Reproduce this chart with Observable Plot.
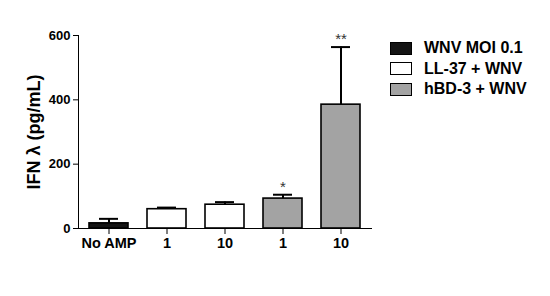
<!DOCTYPE html>
<html>
<head>
<meta charset="utf-8">
<script src="https://cdn.jsdelivr.net/npm/d3@7"></script>
<script src="https://cdn.jsdelivr.net/npm/@observablehq/plot@0.6"></script>
<style>
  body { margin: 0; background: #fff; }
  #wrap { position: relative; width: 550px; height: 296px; font-family: "Liberation Sans", Arial, sans-serif; }
  #legend { position: absolute; left: 390px; top: 38px; font-weight: bold; font-size: 16px; color: #000; }
  .row { display: flex; align-items: center; height: 20.5px; }
  .sw { width: 20px; height: 11px; border: 1px solid #000; margin-right: 12px; }
</style>
</head>
<body>
<div id="wrap"><div id="legend"></div></div>
<script>
const keys = ["No AMP", "LL-37 1", "LL-37 10", "hBD-3 1", "hBD-3 10"];
const tickLabels = ["No AMP", "1", "10", "1", "10"];
const groups = ["WNV MOI 0.1", "LL-37 + WNV", "LL-37 + WNV", "hBD-3 + WNV", "hBD-3 + WNV"];
const values = [16, 60, 74, 93, 385];
const errors = [14, 5, 8, 12, 179];
const stars = ["", "", "", "*", "**"];
const legendGroups = ["WNV MOI 0.1", "LL-37 + WNV", "hBD-3 + WNV"];
const groupColors = ["#141414", "#ffffff", "#a3a3a3"];
const yTicks = [0, 200, 400, 600];
const yLabel = "IFN λ (pg/mL)";

const data = keys.map((k, i) => ({
  key: k, group: groups[i], value: values[i], top: values[i] + errors[i], star: stars[i]
}));
const labelMap = new Map(keys.map((k, i) => [k, tickLabels[i]]));

const plot = Plot.plot({
  width: 550,
  height: 296,
  marginLeft: 78,
  marginRight: 179,
  marginTop: 35,
  marginBottom: 68,
  style: { fontFamily: "Liberation Sans, Arial, sans-serif", fontSize: "14.5px", fontWeight: "bold", color: "#000", background: "#fff" },
  x: { domain: keys, paddingInner: 0.32, paddingOuter: 0.16, label: null, tickFormat: d => labelMap.get(d), tickSize: 6, tickPadding: 3, line: true },
  y: { domain: [0, 600], ticks: yTicks, label: null, tickSize: 5, tickPadding: 3, line: true },
  color: { domain: legendGroups, range: groupColors },
  marks: [
    Plot.ruleX(data, { x: "key", y1: "value", y2: "top", stroke: "#000", strokeWidth: 2 }),
    Plot.tickY(data, { x: "key", y: "top", stroke: "#000", strokeWidth: 2, insetLeft: 10, insetRight: 10 }),
    Plot.barY(data, { x: "key", y: "value", fill: "group", stroke: "#000", strokeWidth: 1.6 }),
    Plot.text(data, { x: "key", y: "top", text: "star", dy: -8, fontSize: 15, fontWeight: "normal", fill: "#333" }),
    Plot.text([yLabel], { frameAnchor: "left", textAnchor: "middle", rotate: -90, dx: -44, fontSize: 18, fontWeight: "bold", fill: "#000" })
  ]
});
// y-axis tick labels are slightly smaller than x-axis tick labels
plot.querySelectorAll("g[aria-label]").forEach(g => {
  const l = g.getAttribute("aria-label") || "";
  if (l.startsWith("y-axis")) g.querySelectorAll("text").forEach(t => { t.style.fontSize = "13px"; });
});
document.getElementById("wrap").prepend(plot);

const legend = document.getElementById("legend");
legendGroups.forEach((g, i) => {
  const row = document.createElement("div");
  row.className = "row";
  const sw = document.createElement("div");
  sw.className = "sw";
  sw.style.background = groupColors[i];
  const t = document.createElement("span");
  t.textContent = g;
  row.append(sw, t);
  legend.append(row);
});
</script>
</body>
</html>
